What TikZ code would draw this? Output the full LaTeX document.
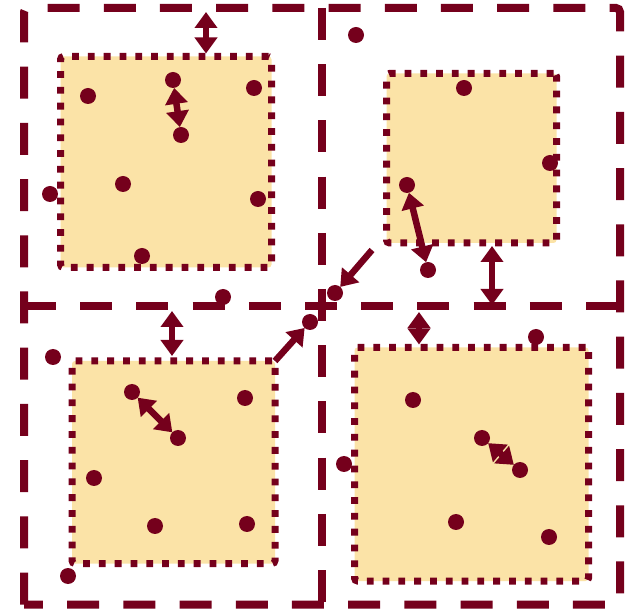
\documentclass[tikz,border=0pt]{standalone}
\usepackage{xcolor}
\usepackage{tikz}
\usetikzlibrary{positioning,calc,arrows.meta}
\definecolor{wine}{RGB}{117,0,28}
\definecolor{sand}{RGB}{251,227,167}

\begin{document}
\begin{tikzpicture}[x=1pt, y=-1pt,
        quad/.style={draw=wine, line width=8pt, dash pattern=on 32pt off 24.2pt},
        cell/.style={rectangle, draw=wine, fill=sand, line width=7pt, dash pattern=on 6.8pt off 9pt, rounded corners=3pt, inner sep=0pt, outer sep=0pt},
        dot/.style={circle, fill=wine, minimum size=16pt, inner sep=0pt, outer sep=0pt},
        link/.style={draw=wine, line width=6.5pt, >={Triangle[width=22pt,length=16pt]}},
      ]
      \useasboundingbox (0,0) rectangle (635,609);
      % outer frame and the two dividers
      \node [rectangle, minimum width=596pt, minimum height=596.5pt, inner sep=0pt, outer sep=0pt] (grid) at (322,306.25) {};
      \draw [quad] (grid.south west) [rounded corners=4pt] -- (grid.north west) -- (grid.north east) -- (grid.south east) [sharp corners] -- cycle;
      \draw [quad] (grid.west) -- (grid.east);
      \draw [quad] (grid.north) -- (grid.south);
      % cells
      \node [cell, minimum width=211pt, minimum height=211pt] (tlbox) at (166,162) {};
      \node [cell, minimum width=170pt, minimum height=169.5pt] (trbox) at (471.5,158.25) {};
      \node [cell, minimum width=203pt, minimum height=202.5pt] (blbox) at (173.5,462.25) {};
      \node [cell, minimum width=234pt, minimum height=233.5pt] (brbox) at (471.5,464.25) {};
      % top left
      \node [dot] (a1) at (88,96) {};
      \node [dot] (a2) at (173,80) {};
      \node [dot] (a3) at (181,135) {};
      \node [dot] (a4) at (254,88) {};
      \node [dot] (a5) at (123,184) {};
      \node [dot] (a6) at (258,199) {};
      \node [dot] (a7) at (142,256) {};
      \node [dot] (a8) at (50,194) {};
      \node [dot] (a9) at (223,297) {};
      % top right
      \node [dot] (b1) at (356,35) {};
      \node [dot] (b2) at (464,88) {};
      \node [dot] (b3) at (550,163) {};
      \node [dot] (b4) at (407,185) {};
      \node [dot] (b5) at (428,270) {};
      \node [dot] (b6) at (335,293) {};
      % bottom left
      \node [dot] (c1) at (53,357) {};
      \node [dot] (c2) at (132,392) {};
      \node [dot] (c3) at (178,438) {};
      \node [dot] (c4) at (245,398) {};
      \node [dot] (c5) at (94,478) {};
      \node [dot] (c6) at (155,526) {};
      \node [dot] (c7) at (247,524) {};
      \node [dot] (c8) at (68,576) {};
      \node [dot] (c9) at (310,322) {};
      % bottom right
      \node [dot] (d1) at (536,337) {};
      \node [dot] (d2) at (413,400) {};
      \node [dot] (d3) at (482,438) {};
      \node [dot] (d4) at (520,470) {};
      \node [dot] (d5) at (344,464) {};
      \node [dot] (d6) at (456,522) {};
      \node [dot] (d7) at (549,537) {};
      % free ends
      \coordinate (g1) at (206,12);
      \coordinate (g2) at (492,305);
      \coordinate (g3) at (172,311);
      \coordinate (g4) at (419,312);
      \coordinate (g5) at (372,250);
      \draw [link, <->, shorten >=3pt] (g1) -- (g1 |- tlbox.north);
      \draw [link, <->] (a2) -- (a3);
      \draw [link, <->] (b4) -- (b5);
      \draw [link, <->, shorten <=3pt] (g2 |- trbox.south) -- (g2);
      \draw [link, ->] (g5) -- (b6);
      \draw [link, <->, shorten >=5pt] (g3) -- (g3 |- blbox.north);
      \draw [link, <->] (c2) -- (c3);
      \draw [link, ->] (blbox.north east) -- (c9);
      \draw [link, <->, shorten >=3pt] (g4) -- (g4 |- brbox.north);
      \draw [link, <->] (d3) -- (d4);
    \end{tikzpicture}
\end{document}
